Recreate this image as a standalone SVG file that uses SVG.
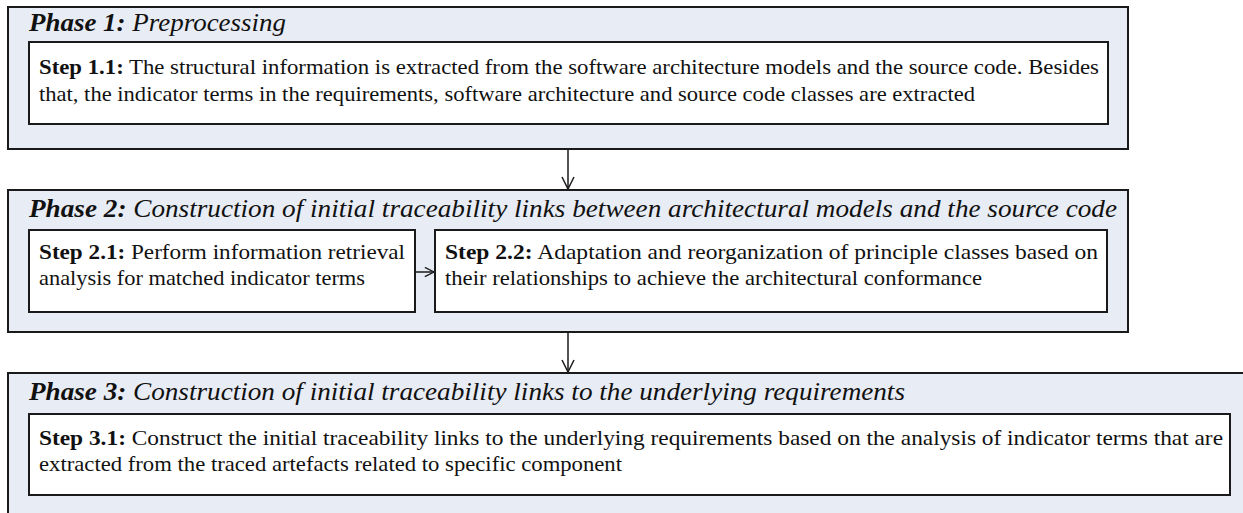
<svg xmlns="http://www.w3.org/2000/svg" width="1243" height="513" viewBox="0 0 1243 513">
<style>
.phase{fill:#e8ecf4;stroke:#1a1a1a;stroke-width:2}
.step{fill:#ffffff;stroke:#1a1a1a;stroke-width:2}
.title{font-family:"Liberation Serif","Times New Roman",serif;font-size:26px;font-style:italic;fill:#111}
.body{font-family:"Liberation Serif","Times New Roman",serif;font-size:21px;fill:#111}
.b{font-weight:bold}
.conn{stroke:#1a1a1a;stroke-width:1.5;fill:none}
</style>
<defs>
<marker id="arr" viewBox="0 0 14 14" refX="13" refY="7" markerWidth="14" markerHeight="14" markerUnits="userSpaceOnUse" orient="auto">
<path d="M1,1 L13,7 L1,13" fill="none" stroke="#1a1a1a" stroke-width="1.5"/>
</marker>
<marker id="arrs" viewBox="0 0 12 12" refX="11" refY="6" markerWidth="11" markerHeight="11" markerUnits="userSpaceOnUse" orient="auto">
<path d="M1,1 L11,6 L1,11" fill="none" stroke="#1a1a1a" stroke-width="1.5"/>
</marker>
</defs>
<rect x="0" y="0" width="1243" height="513" fill="#ffffff"/>
<g id="phase1">
<rect class="phase" x="8" y="7" width="1120" height="142"/>
<text class="title" x="29" y="31" textLength="257" lengthAdjust="spacingAndGlyphs"><tspan class="b">Phase 1:</tspan> Preprocessing</text>
<g id="step1_1">
<rect class="step" x="29" y="42" width="1079" height="82"/>
<text class="body" x="39" y="74" textLength="1060" lengthAdjust="spacingAndGlyphs"><tspan class="b">Step 1.1:</tspan> The structural information is extracted from the software architecture models and the source code. Besides</text>
<text class="body" x="39" y="101" textLength="936" lengthAdjust="spacingAndGlyphs">that, the indicator terms in the requirements, software architecture and source code classes are extracted</text>
</g>
</g>
<g id="phase2">
<rect class="phase" x="8" y="190" width="1120" height="142"/>
<text class="title" x="29" y="217" textLength="1088" lengthAdjust="spacingAndGlyphs"><tspan class="b">Phase 2:</tspan> Construction of initial traceability links between architectural models and the source code</text>
<g id="step2_1">
<rect class="step" x="29" y="230" width="386" height="82"/>
<text class="body" x="39" y="259" textLength="366" lengthAdjust="spacingAndGlyphs"><tspan class="b">Step 2.1:</tspan> Perform information retrieval</text>
<text class="body" x="39" y="285" textLength="326" lengthAdjust="spacingAndGlyphs">analysis for matched indicator terms</text>
</g>
<g id="step2_2">
<rect class="step" x="435" y="230" width="672" height="82"/>
<text class="body" x="445" y="259" textLength="653" lengthAdjust="spacingAndGlyphs"><tspan class="b">Step 2.2:</tspan> Adaptation and reorganization of principle classes based on</text>
<text class="body" x="445" y="285" textLength="537" lengthAdjust="spacingAndGlyphs">their relationships to achieve the architectural conformance</text>
</g>
</g>
<g id="phase3">
<rect class="phase" x="8" y="373" width="1250" height="150"/>
<text class="title" x="29" y="400" textLength="876" lengthAdjust="spacingAndGlyphs"><tspan class="b">Phase 3:</tspan> Construction of initial traceability links to the underlying requirements</text>
<g id="step3_1">
<rect class="step" x="29" y="414" width="1201" height="81"/>
<text class="body" x="39" y="445" textLength="1184" lengthAdjust="spacingAndGlyphs"><tspan class="b">Step 3.1:</tspan> Construct the initial traceability links to the underlying requirements based on the analysis of indicator terms that are</text>
<text class="body" x="39" y="471" textLength="583" lengthAdjust="spacingAndGlyphs">extracted from the traced artefacts related to specific component</text>
</g>
</g>
<g id="connectors">
<line class="conn" x1="568" y1="149" x2="568" y2="189" marker-end="url(#arr)"/>
<line class="conn" x1="415" y1="272" x2="434" y2="272" marker-end="url(#arrs)"/>
<line class="conn" x1="568" y1="332" x2="568" y2="372" marker-end="url(#arr)"/>
</g>
</svg>
